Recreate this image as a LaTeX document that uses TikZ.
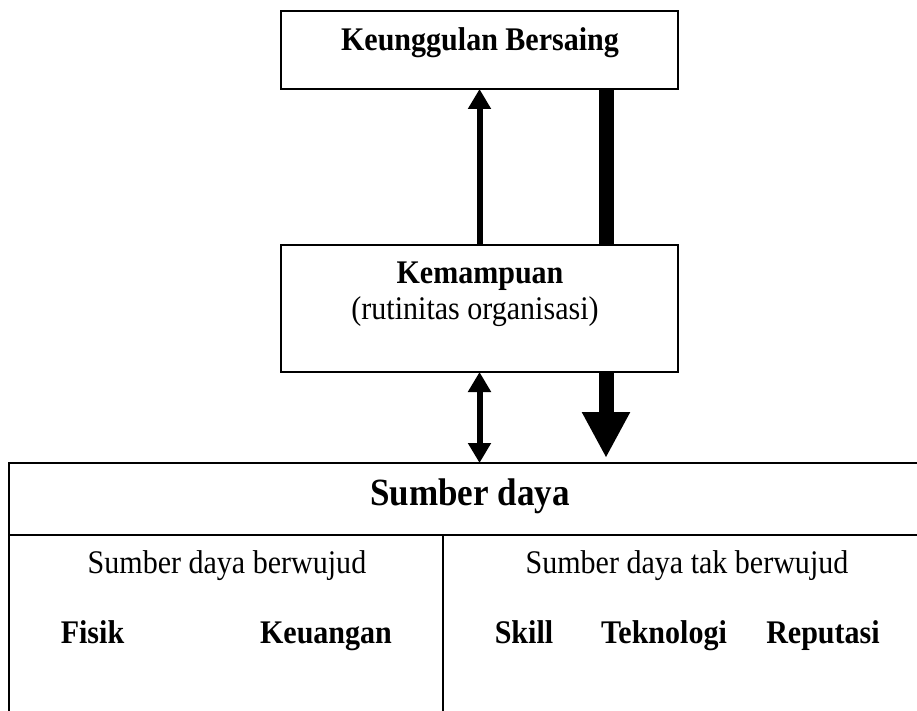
\documentclass[tikz,border=0pt]{standalone}
\usepackage{fontspec}
\setmainfont{Liberation Serif}[FakeStretch=0.91]
\usetikzlibrary{arrows.meta,calc,positioning}

\begin{document}
\begin{tikzpicture}[x=0.4pt,y=-0.4pt,
    kotak/.style={draw,line width=0.8pt,minimum width=158.8pt,inner sep=0pt,outer sep=0pt},
    judul/.style={font=\fontsize{13.2}{15}\selectfont\bfseries,anchor=base},
    isi/.style={font=\fontsize{13.2}{15}\selectfont,anchor=base},
    panah/.style={line width=2.4pt,-{Triangle[width=8.8pt,length=8pt]}},
    panahdua/.style={line width=2.4pt,
      {Triangle[width=8.8pt,length=8pt]}-{Triangle[width=8.8pt,length=8pt]}},
    tebal/.style={line width=6pt}]
    \useasboundingbox (0,0) rectangle (917,711);
    \clip (0,0) rectangle (917,711);

    % Keunggulan bersaing
    \node[kotak,minimum height=31.2pt] (unggul) at (479.5,50) {};
    \node[judul] (unggultxt) at (480,51) {Keunggulan Bersaing};

    % Kemampuan
    \node[kotak,minimum height=50.8pt] (mampu) at (479.5,308.5) {};
    \node[judul] (mampujudul) at (480,284) {Kemampuan};
    \node[isi] (mampuisi) at (475,320) {(rutinitas organisasi)};

    % Sumber daya (table, cut off at the right and bottom)
    \node[kotak,minimum width=368.4pt,minimum height=28.8pt] (sumber) at (469.5,499) {};
    \node[font=\fontsize{15.4}{18}\selectfont\bfseries,anchor=base] (sumbertxt)
      at (470,505) {Sumber daya};
    \draw[line width=0.8pt] (sumber.south west) rectangle ++(921,200);
    \draw[line width=0.8pt] (443,535) -- (443,740);
    \node[isi] (berwujud) at (227,573) {Sumber daya berwujud};
    \node[isi] (takberwujud) at (687,573) {Sumber daya tak berwujud};
    \node[judul] (fisik) at (92.5,643) {Fisik};
    \node[judul] (uang) at (326,643) {Keuangan};
    \node[judul] (skill) at (524,643) {Skill};
    \node[judul] (tekno) at (664,643) {Teknologi};
    \node[judul] (reputasi) at (823,643) {Reputasi};

    % Panah
    \draw[panah] (mampu.north) -- (unggul.south);
    \draw[tebal] ($(unggul.south)+(126.5,0)$) -- ($(mampu.north)+(126.5,0)$);
    \draw[panahdua] (mampu.south) -- (mampu.south |- sumber.north);
    \draw[tebal,-{Triangle[width=18pt,length=18.4pt]},shorten >=2pt]
      ($(mampu.south)+(126.5,0)$) -- ($(mampu.south |- sumber.north)+(126.5,0)$);
  \end{tikzpicture}
\end{document}
